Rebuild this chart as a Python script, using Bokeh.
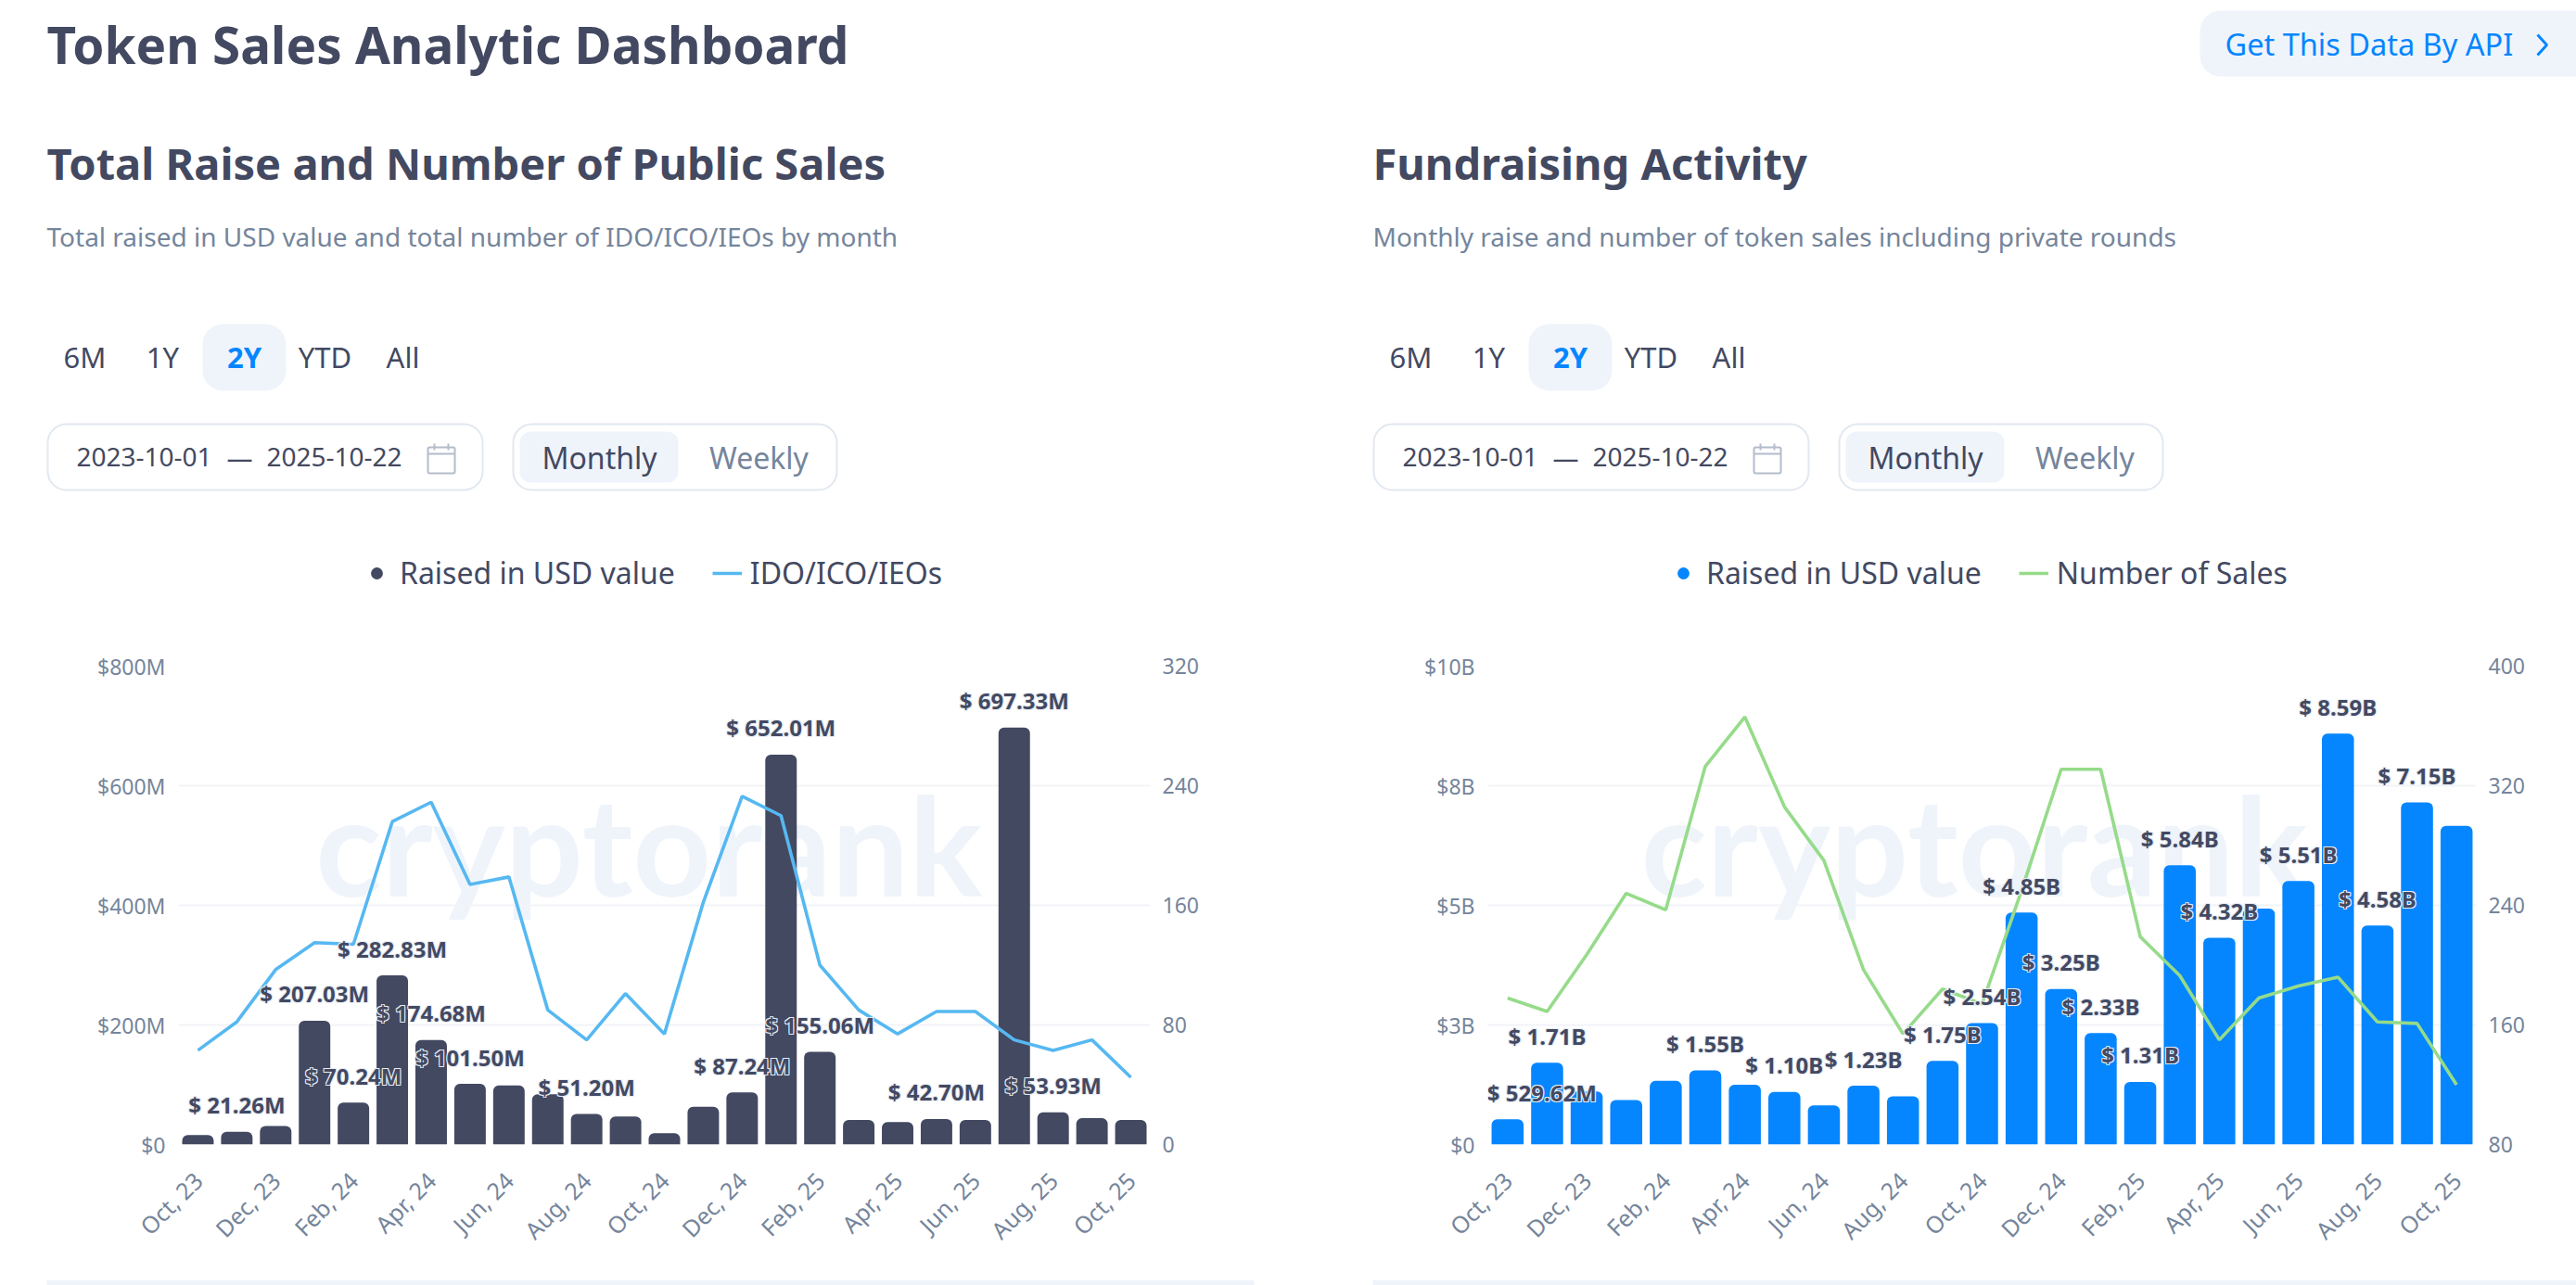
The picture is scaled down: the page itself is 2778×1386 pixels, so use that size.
from math import pi
from bokeh.embed import file_html
from bokeh.resources import INLINE
from bokeh.plotting import figure
from bokeh.layouts import column, row
from bokeh.models import Range1d, LinearAxis, FixedTicker, Legend, LegendItem, ColumnDataSource
from bokeh.core.properties import value

# ---- data ----
months = ["Oct, 23","Nov, 23","Dec, 23","Jan, 24","Feb, 24","Mar, 24","Apr, 24","May, 24","Jun, 24","Jul, 24",
          "Aug, 24","Sep, 24","Oct, 24","Nov, 24","Dec, 24","Jan, 25","Feb, 25","Mar, 25","Apr, 25","May, 25",
          "Jun, 25","Jul, 25","Aug, 25","Sep, 25","Oct, 25"]
public_raise_m = [16, 21.26, 31, 207.03, 70.24, 282.83, 174.68, 101.50, 99, 84, 51.20, 46.8, 19, 63, 87.24,
                  652.01, 155.06, 41, 37.7, 42.70, 41, 697.33, 53.93, 44, 41]
public_sales = [63, 82, 117, 135, 134, 216, 229, 174, 179, 90, 70, 101, 74, 162, 233, 220, 120, 90, 74, 89, 89, 70, 63, 70, 45]
public_label_idx = [1, 3, 4, 5, 6, 7, 10, 14, 15, 16, 19, 21, 22]
public_labels = ["$ 21.26M","$ 207.03M","$ 70.24M","$ 282.83M","$ 174.68M","$ 101.50M","$ 51.20M","$ 87.24M",
                 "$ 652.01M","$ 155.06M","$ 42.70M","$ 697.33M","$ 53.93M"]

fund_raise_b = [0.52962, 1.71, 1.11, 0.93, 1.33, 1.55, 1.25, 1.10, 0.82, 1.23, 1.01, 1.75, 2.54, 4.85, 3.25, 2.33,
                1.31, 5.84, 4.32, 4.93, 5.51, 8.59, 4.58, 7.15, 6.66]
fund_sales = [178, 169, 207, 248, 237, 333, 366, 306, 270, 197, 154, 184, 174, 250, 331, 331, 219, 193, 150, 178, 186, 192, 162, 161, 120]
fund_label_idx = [0, 1, 5, 7, 9, 11, 12, 13, 14, 15, 16, 17, 18, 20, 21, 22, 23]
fund_labels = ["$ 529.62M","$ 1.71B","$ 1.55B","$ 1.10B","$ 1.23B","$ 1.75B","$ 2.54B","$ 4.85B","$ 3.25B","$ 2.33B",
               "$ 1.31B","$ 5.84B","$ 4.32B","$ 5.51B","$ 8.59B","$ 4.58B","$ 7.15B"]

left_ticks_public = [0, 200, 400, 600, 800]
left_labels_public = ["$0", "$200M", "$400M", "$600M", "$800M"]
right_ticks_public = [0, 80, 160, 240, 320]
left_ticks_fund = [0, 2.5, 5, 7.5, 10]
left_labels_fund = ["$0", "$3B", "$5B", "$8B", "$10B"]
right_ticks_fund = [80, 160, 240, 320, 400]

DARK = "#434961"; GREY = "#75859b"; BLUE = "#0586ff"; PALE = "#eff4fb"; EDGE = "#e2e8f0"
SANS = value("Noto Sans")
HEADER_H = 660

# ---- page header, drawn in page pixels ----
hdr = figure(width=2778, height=HEADER_H, x_range=Range1d(0, 2778), y_range=Range1d(HEADER_H, 0),
             output_backend="svg", toolbar_location=None, min_border=0, outline_line_color=None)
hdr.axis.visible = False
hdr.grid.visible = False


def txt(x, y, s, size, color, bold=False, align="left"):
    hdr.text([x], [y], text=[s], text_font=SANS, text_font_size=f"{size}px", text_color=color,
             text_font_style="bold" if bold else "normal", text_align=align, text_baseline="middle")


def box(l, r, t, b, fill, line=None, radius=14, lw=2):
    hdr.quad(left=[l], right=[r], top=[t], bottom=[b], fill_color=fill, line_color=line, line_width=lw,
             border_radius=radius)


txt(50, 47, "Token Sales Analytic Dashboard", 54.8, DARK, bold=True)
box(2372, 2800, 11, 82, PALE, radius=22)
txt(2399, 47, "Get This Data By API", 32.5, BLUE)
hdr.line([2736, 2746, 2736], [37, 48, 59], line_color=BLUE, line_width=3)


def controls(dx, title, sub):
    txt(50 + dx, 175, title, 47, DARK, bold=True)
    txt(50 + dx, 254, sub, 28, GREY)
    box(218 + dx, 308 + dx, 349, 421, PALE, radius=22)
    for cx, s, c, b in [(91, "6M", DARK, False), (175, "1Y", DARK, False), (263, "2Y", BLUE, True),
                        (350, "YTD", DARK, False), (434, "All", DARK, False)]:
        txt(cx + dx, 384.5, s, 31, c, bold=b, align="center")
    box(51 + dx, 520 + dx, 457, 528, "white", EDGE, radius=20)
    txt(155 + dx, 492.5, "2023-10-01", 28, DARK, align="center")
    txt(258 + dx, 492.5, "—", 28, DARK, align="center")
    txt(360 + dx, 492.5, "2025-10-22", 28, DARK, align="center")
    box(461 + dx, 490 + dx, 482, 510, "white", "#b4bccb", radius=2)
    hdr.line([461 + dx, 490 + dx], [489, 489], line_color="#b4bccb", line_width=2)
    hdr.segment([468 + dx, 483 + dx], [478, 478], [468 + dx, 483 + dx], [485, 485], line_color="#b4bccb", line_width=2)
    box(553 + dx, 902 + dx, 457, 528, "white", EDGE, radius=20)
    box(560 + dx, 731 + dx, 465, 520, PALE, radius=12)
    txt(646 + dx, 492.5, "Monthly", 32, DARK, align="center")
    txt(818 + dx, 492.5, "Weekly", 32, GREY, align="center")


def legend(x, bar_col, line_col, name2):
    # stand-in renderers, kept off the page range: only their legend swatches show
    dot = hdr.scatter([-500], [-500], size=16, fill_color=bar_col, line_color=None)
    ln = hdr.line([-500, -400], [-500, -500], line_color=line_col, line_width=3.6)
    leg = Legend(items=[LegendItem(label="Raised in USD value", renderers=[dot]),
                        LegendItem(label=name2, renderers=[ln])],
                 orientation="horizontal", location=(x, 21), padding=0, margin=0, spacing=40,
                 glyph_width=32, glyph_height=40, label_standoff=9, border_line_color=None,
                 background_fill_alpha=0, label_text_font="Noto Sans", label_text_font_size="32px",
                 label_text_color=DARK)
    hdr.add_layout(leg, "center")


controls(0, "Total Raise and Number of Public Sales", "Total raised in USD value and total number of IDO/ICO/IEOs by month")
controls(1430, "Fundraising Activity", "Monthly raise and number of token sales including private rounds")
legend(390, DARK, "#56b8f1", "IDO/ICO/IEOs")
legend(1799, BLUE, "#96db8a", "Number of Sales")


# ---- charts ----
def chart(width, bl, br, ymax, yticks, ylabels, rmin, rmax, rticks, bars, line, bar_col, line_col,
          lab_idx, labels, lab_shift, mark_x):
    p = figure(width=width, height=717, x_range=Range1d(-0.5, 24.5), y_range=Range1d(0, ymax),
               output_backend="svg", toolbar_location=None, outline_line_color=None,
               min_border_left=bl, min_border_right=br, min_border_top=58, min_border_bottom=143)
    p.extra_y_ranges = {"n": Range1d(rmin, rmax)}
    p.xgrid.visible = False
    p.ygrid.grid_line_color = "#f2f4f8"
    p.ygrid.grid_line_width = 2

    ax = p.xaxis[0]
    ax.ticker = FixedTicker(ticks=list(range(0, 25, 2)))
    ax.major_label_overrides = {i: months[i] for i in range(0, 25, 2)}
    ax.major_label_orientation = pi / 4
    ax.major_label_standoff = 28

    ay = p.yaxis[0]
    ay.ticker = FixedTicker(ticks=yticks)
    ay.major_label_overrides = dict(zip(yticks, ylabels))
    ay.major_label_standoff = 8

    ar = LinearAxis(y_range_name="n", ticker=FixedTicker(ticks=rticks))
    ar.major_label_standoff = 7
    p.add_layout(ar, "right")
    for a in (ax, ay, ar):
        a.axis_line_color = None
        a.major_tick_line_color = None
        a.minor_tick_line_color = None
        a.major_label_text_color = GREY
        a.major_label_text_font = "Noto Sans"
        a.major_label_text_font_size = "23px"
    ax.major_label_text_font_size = "25px"

    p.text([mark_x], [0.628 * ymax], text=["cryptorank"], text_font=value("Lato"), text_font_size="148px",
           text_font_style="bold", text_color=PALE, text_align="center", text_baseline="alphabetic", level="underlay")

    xs = list(range(25))
    p.vbar(x=xs, top=bars, width=0.81, fill_color=bar_col, line_color=None, border_radius=(6, 6, 0, 0))
    p.line(xs, line, y_range_name="n", line_color=line_col, line_width=3.6)

    common = dict(text_font=SANS, text_font_size="24px", text_font_style="bold", text_align="center",
                  text_baseline="middle")
    ys = [bars[i] for i in lab_idx]
    for ox, oy in [(-1, -1), (1, -1), (-1, 1), (1, 1)]:
        s = ColumnDataSource(dict(x=lab_idx, y=ys, text=labels,
                                  dx=[d + ox for d in lab_shift], dy=[-29 + oy] * len(labels)))
        p.text("x", "y", text="text", source=s, x_offset="dx", y_offset="dy", text_color="#e8edf5", **common)
    src = ColumnDataSource(dict(x=lab_idx, y=ys, text=labels, dx=lab_shift, dy=[-29] * len(labels)))
    p.text("x", "y", text="text", source=src, x_offset="dx", y_offset="dy", text_color=DARK, **common)
    return p


c1 = chart(1430, 192, 190, 800, left_ticks_public, left_labels_public, 0, 320, right_ticks_public,
           public_raise_m, public_sales, DARK, "#56b8f1", public_label_idx, public_labels,
           [0] * len(public_labels), 11.6)
c2 = chart(1348, 174, 108, 10, left_ticks_fund, left_labels_fund, 80, 400, right_ticks_fund,
           fund_raise_b, fund_sales, BLUE, "#96db8a", fund_label_idx, fund_labels,
           [37] + [0] * (len(fund_labels) - 1), 11.8)

# ---- bottom strip ----
foot = figure(width=2778, height=9, x_range=Range1d(0, 2778), y_range=Range1d(0, 1),
              output_backend="svg", toolbar_location=None, min_border=0, outline_line_color=None)
foot.axis.visible = False
foot.grid.visible = False
foot.quad(left=[50, 1480], right=[1352, 2778], top=[1, 1], bottom=[0, 0], fill_color=PALE, line_color=None)

page = column(hdr, row(c1, c2), foot, spacing=0)
open("out.html", "w").write(file_html(page, INLINE))
